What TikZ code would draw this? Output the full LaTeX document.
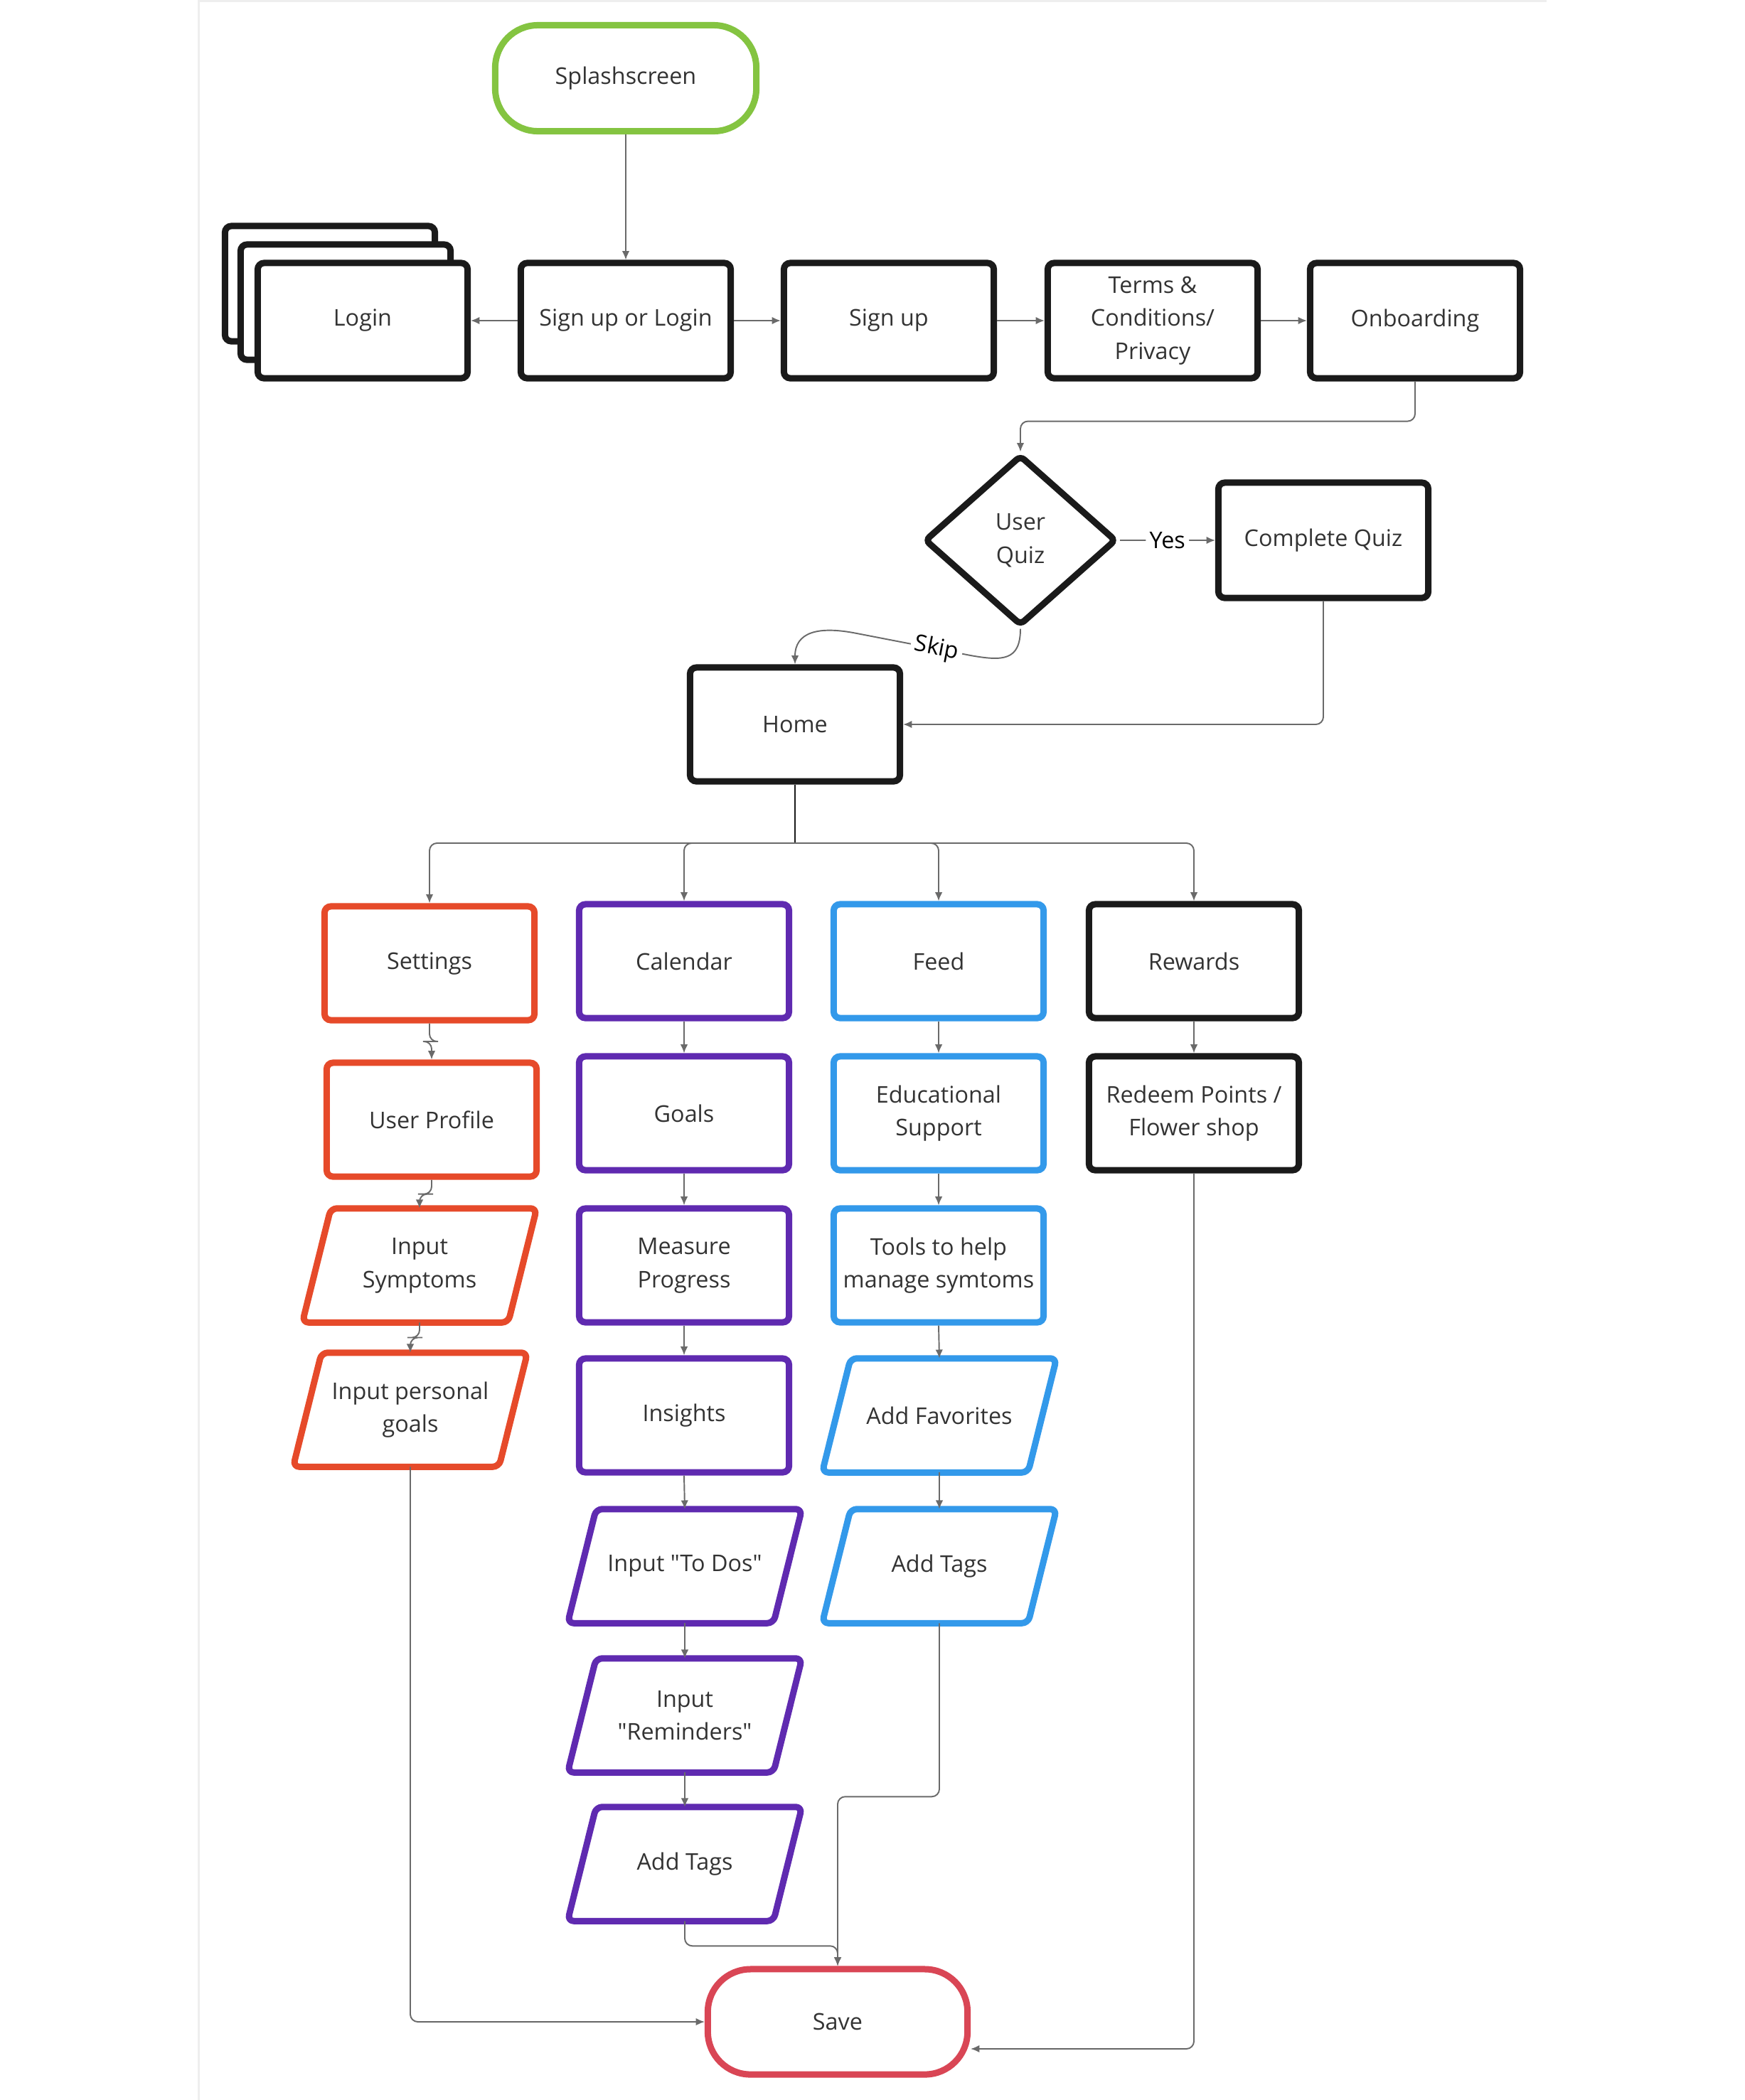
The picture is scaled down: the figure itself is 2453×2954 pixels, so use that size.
\documentclass[tikz,border=0pt]{standalone}
\usepackage{fontspec}
\setmainfont{Open Sans}[Ligatures=TeXOff]
\usetikzlibrary{shapes.geometric,arrows.meta,calc}
\definecolor{cgreen}{HTML}{84C441}
\definecolor{cred}{HTML}{D94655}
\definecolor{corange}{HTML}{E64A2A}
\definecolor{cpurple}{HTML}{5F2AB0}
\definecolor{cblue}{HTML}{3399EA}
\definecolor{cblack}{HTML}{1A1A1A}
\definecolor{ctext}{HTML}{333333}
\definecolor{cline}{HTML}{6A6A6A}
\definecolor{cpage}{HTML}{EEEEEE}

\tikzset{
  base/.style={font=\fontsize{9.2pt}{13.3pt}\selectfont, text=ctext, align=center, inner sep=0pt},
  box/.style={base, rectangle, draw=#1, line width=0.09cm, rounded corners=2.5pt, fill=white,
              minimum width=2.95cm, minimum height=1.6cm},
  box/.default=cblack,
  ptext/.style={base, minimum width=2.88cm, minimum height=1.59cm},
  pline/.style={draw=#1, line width=0.09cm, rounded corners=2.5pt, line join=round},
  term/.style={base, rectangle, draw=#1, line width=0.09cm, rounded corners=0.6cm, fill=white,
               minimum width=3.67cm, minimum height=1.49cm},
  conn/.style={draw=cline, line width=0.55pt, rounded corners=3pt, -{Latex[length=3.5pt,width=3pt]}},
  lbl/.style={font=\fontsize{9.2pt}{13.3pt}\selectfont, text=black, fill=white, inner sep=1.5pt},
}

\newcommand\ParaNode[5]{%
  \node[ptext] (#1) at (#2,#3) {#5};
  \draw[pline=#4] ($(#1.south west)+(-20,0)$) -- ($(#1.south east)+(-20,0)$)
     -- ($(#1.north east)+(20,0)$) -- ($(#1.north west)+(20,0)$) -- cycle;
}

\begin{document}
\begin{tikzpicture}[x=0.01cm,y=-0.01cm]
\useasboundingbox (0,0) rectangle (2453,2954);
\fill[white] (0,0) rectangle (2453,2954);
\draw[cpage, line width=0.03cm] (279,0) -- (279,2954);
\draw[cpage, line width=0.03cm] (279,1) -- (2175,1);

% ---- top ----
\node[term=cgreen] (splash) at (880,110) {Splashscreen};

\node[box, minimum height=1.62cm] (loginb2) at (464,399) {};
\node[box, minimum height=1.62cm] (loginb1) at (486,425) {};
\node[box, minimum height=1.62cm] (login) at (510,451) {Login};
\node[box, minimum height=1.62cm] (sol) at (880,451) {Sign up or Login};
\node[box, minimum height=1.62cm] (signup) at (1250,451) {Sign up};
\node[box, minimum height=1.62cm] (terms) at (1621,451) {Terms \&\\Conditions/\\Privacy};
\node[box, minimum height=1.62cm] (onb) at (1990,451) {Onboarding};

\node[base, diamond, draw=cblack, line width=0.09cm, rounded corners=2pt, fill=white,
      minimum width=2.70cm, minimum height=2.40cm] (uq) at (1435,760) {User\\Quiz};
\node[box, minimum height=1.62cm] (cq) at (1861,760) {Complete Quiz};
\node[box, minimum height=1.6cm] (home) at (1118,1019) {Home};

% ---- columns ----
\node[box=corange] (settings) at (604,1355) {Settings};
\node[box=corange] (profile) at (607,1575) {User Profile};
\ParaNode{symp}{590}{1780}{corange}{Input\\Symptoms}
\ParaNode{pgoals}{577}{1983}{corange}{Input personal\\goals}

\node[box=cpurple] (cal) at (962,1352) {Calendar};
\node[box=cpurple] (goals) at (962,1566) {Goals};
\node[box=cpurple] (measure) at (962,1780) {Measure\\Progress};
\node[box=cpurple] (insights) at (962,1991) {Insights};
\ParaNode{todos}{963}{2203}{cpurple}{Input "To Dos"}
\ParaNode{remind}{963}{2413}{cpurple}{Input\\"Reminders"}
\ParaNode{ctags}{963}{2622}{cpurple}{Add Tags}

\node[box=cblue] (feed) at (1320,1352) {Feed};
\node[box=cblue] (edu) at (1320,1566) {Educational\\Support};
\node[box=cblue] (tools) at (1320,1780) {Tools to help\\manage symtoms};
\ParaNode{fav}{1321}{1991}{cblue}{Add Favorites}
\ParaNode{ftags}{1321}{2203}{cblue}{Add Tags}

\node[box] (rew) at (1679,1352) {Rewards};
\node[box] (redeem) at (1679,1566) {Redeem Points /\\Flower shop};

\node[term=cred, minimum width=3.65cm, minimum height=1.48cm] (save) at (1178,2844) {Save};

% ---- connectors ----
\draw[conn] (splash.south) -- (sol.north);
\draw[conn] (sol.west) -- (login.east);
\draw[conn] (sol.east) -- (signup.west);
\draw[conn] (signup.east) -- (terms.west);
\draw[conn] (terms.east) -- (onb.west);
\draw[conn] (onb.south) -- ++(0,56) -| (uq.north);
\draw[conn] (uq.east) -- node[lbl]{Yes} (cq.west);
\draw[conn] (cq.south) |- (home.east);
\draw[conn, rounded corners=0pt] (uq.south) .. controls +(0,45) and +(45,8) .. (1365,922)
   -- node[lbl, sloped, pos=0.3]{Skip} (1205,891)
   .. controls +(-55,-11) and +(0,-45) .. (home.north);

\coordinate (hj) at (1118,1186);
\draw[draw=cblack, line width=0.7pt] (home.south) -- (hj);
\draw[conn] (hj) -| (settings.north);
\draw[conn] (hj) -| (cal.north);
\draw[conn] (hj) -| (feed.north);
\draw[conn] (hj) -| (rew.north);

\draw[conn] (settings.south) |- ($(settings.south)!.5!(profile.north)$) -| (profile.north);
\draw[conn] (profile.south) |- ($(profile.south)!.5!(symp.north)$) -| (symp.north);
\draw[conn] (symp.south) |- ($(symp.south)!.5!(pgoals.north)$) -| (pgoals.north);

\draw[conn] (cal.south) -- (goals.north);
\draw[conn] (goals.south) -- (measure.north);
\draw[conn] (measure.south) -- (insights.north);
\draw[conn] (insights.south) -- (todos.north);
\draw[conn] (todos.south) -- (remind.north);
\draw[conn] (remind.south) -- (ctags.north);

\draw[conn] (feed.south) -- (edu.north);
\draw[conn] (edu.south) -- (tools.north);
\draw[conn] (tools.south) -- (fav.north);
\draw[conn] (fav.south) -- (ftags.north);

\draw[conn] (rew.south) -- (redeem.north);

\draw[conn] (pgoals.south) |- (save.west);
\draw[conn] (ctags.south) -- ++(0,35) -| (save.north);
\draw[conn] (ftags.south) -- ++(0,244) -| (save.north);
\draw[conn] (redeem.south) |- ($(save.east)+(0,38)$);
\end{tikzpicture}
\end{document}
